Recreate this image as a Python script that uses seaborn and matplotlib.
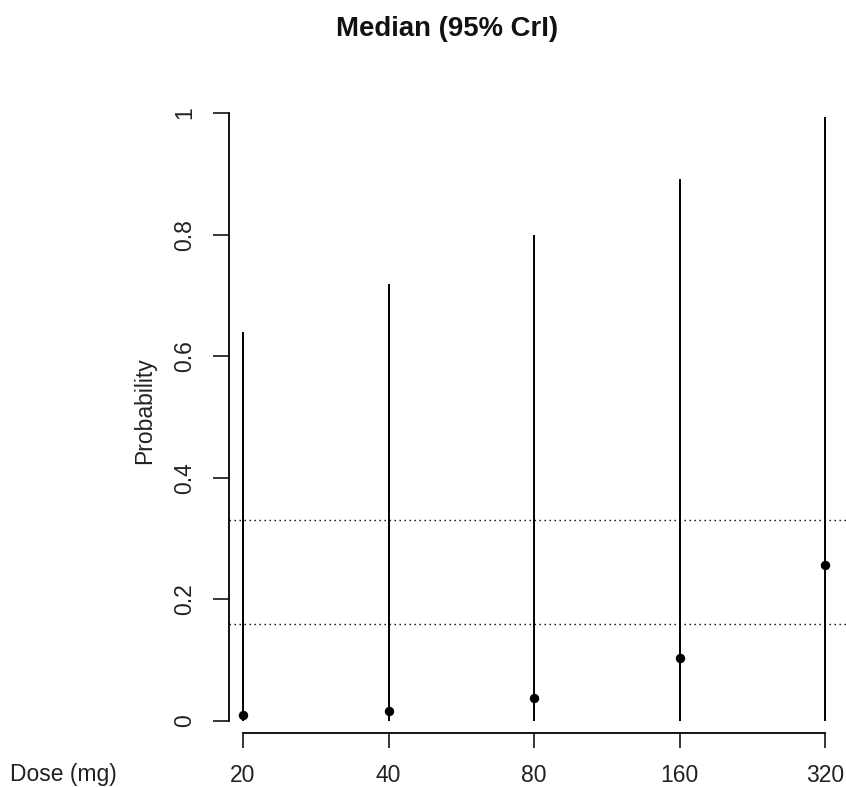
import numpy as np
import pandas as pd
import matplotlib
matplotlib.use("Agg")
import matplotlib.pyplot as plt
import seaborn as sns

doses = ["20", "40", "80", "160", "320"]
median = [0.010, 0.017, 0.038, 0.104, 0.256]
lower = [0.0, 0.0, 0.0, 0.0, 0.0]
upper = [0.640, 0.719, 0.800, 0.892, 0.993]
ref_lines = [0.16, 0.33]
yticks = [0, 0.2, 0.4, 0.6, 0.8, 1]
ytick_labels = ["0", "0.2", "0.4", "0.6", "0.8", "1"]

df = pd.DataFrame({"dose": doses, "median": median, "lower": lower, "upper": upper})
df["pos"] = np.arange(len(df))

sns.set_style("ticks")
plt.rcParams["font.family"] = ["Liberation Sans", "DejaVu Sans"]
fs = 16.5
W, H = 846, 787

fig = plt.figure(figsize=(W / 100, H / 100), dpi=100)
ax = fig.add_axes([229 / W, 1 - 733 / H, 1 - 229 / W, (733 - 101) / H])

# credible interval lines + medians
ax.vlines(df["pos"], df["lower"], df["upper"], color="black", lw=1.4)
sns.scatterplot(data=df, x="pos", y="median", ax=ax, color="black", s=46,
                edgecolor="black", linewidth=0, zorder=3)
for r in ref_lines:
    ax.axhline(r, color="black", lw=1.0, linestyle=(0, (1, 2.6)))

ax.set_xlim((229 - 243) / 145.5, (846 - 243) / 145.5)
ax.set_ylim((721 - 733) / 608, (721 - 101) / 608)

ax.set_xticks(df["pos"])
ax.set_xticklabels(df["dose"], fontsize=fs, color="#222222")
ax.set_yticks(yticks)
ax.set_yticklabels(ytick_labels, fontsize=fs, color="#222222", rotation=90, va="center")

sns.despine(ax=ax)
ax.spines["left"].set_bounds(0, 1)
ax.spines["bottom"].set_bounds(0, len(df) - 1)
for s in ["left", "bottom"]:
    ax.spines[s].set_linewidth(1.3)
    ax.spines[s].set_color("black")
ax.tick_params(axis="y", length=11.5, width=1.3, pad=12, direction="out")
ax.tick_params(axis="x", length=11, width=1.3, pad=11, direction="out")
ax.set_xlabel("")
ax.set_ylabel("")

fig.text(145 / W, 1 - 411 / H, "Probability", rotation=90, ha="center", va="center",
         fontsize=fs, color="#222222")
fig.text(10 / W, 1 - 781 / H, "Dose (mg)", ha="left", va="baseline",
         fontsize=fs, color="#222222")
fig.text(447 / W, 1 - 29 / H, "Median (95% CrI)", ha="center", va="center",
         fontsize=fs * 1.2, fontweight="bold", color="#111111")

fig.savefig("out.png", dpi=100)
